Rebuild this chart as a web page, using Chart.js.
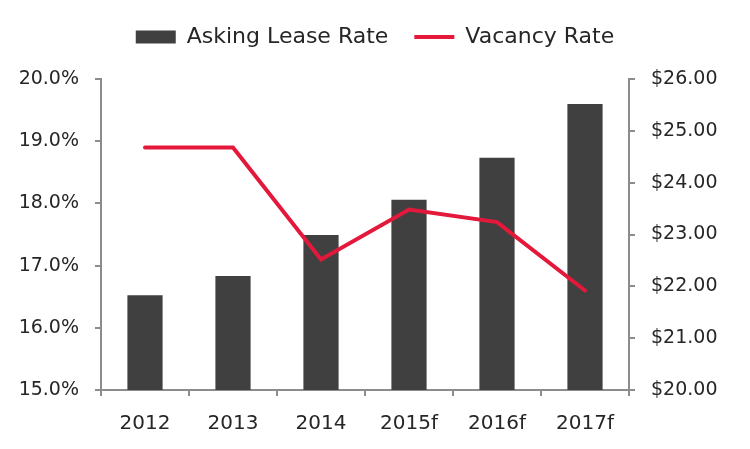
<!DOCTYPE html>
<html>
<head>
<meta charset="utf-8">
<script src="https://cdn.jsdelivr.net/npm/chart.js@4/dist/chart.umd.min.js"></script>
<style>
  html, body { margin: 0; padding: 0; background: #fff; }
  #wrap { width: 750px; height: 449px; }
</style>
</head>
<body>
<div id="wrap"><canvas id="LeaseChart"></canvas></div>
<script>
// Chart data
const years = ["2012", "2013", "2014", "2015f", "2016f", "2017f"];
const askingLeaseRate = [21.83, 22.2, 22.99, 23.67, 24.48, 25.52];
const vacancyRate = [18.9, 18.9, 17.1, 17.9, 17.7, 16.6];

const axisColor = "#8c8c8c";
const textColor = "#262626";
const fontFamily = "'DejaVu Sans', 'Open Sans', sans-serif";

// make the legend take up a fixed band at the top
const legendHeightPlugin = {
  id: "legendHeight",
  beforeLayout(chart) {
    const legend = chart.legend;
    if (legend && !legend._patched) {
      const origFit = legend.fit;
      legend.fit = function () {
        origFit.call(this);
        this.height = 79;
      };
      legend._patched = true;
    }
  },
};

var ctx = document.getElementById("LeaseChart").getContext("2d");
var leaseChart = new Chart(ctx, {
  type: "bar",
  data: {
    labels: years,
    datasets: [
      {
        label: "Asking Lease Rate",
        data: askingLeaseRate,
        backgroundColor: "#404040",
        yAxisID: "y1",
        categoryPercentage: 1.0,
        barPercentage: 0.4,
        order: 1,
      },
      {
        type: "line",
        label: "Vacancy Rate",
        data: vacancyRate,
        borderColor: "#e3183b",
        backgroundColor: "#e3183b",
        borderWidth: 4,
        borderCapStyle: "round",
        pointRadius: 0,
        tension: 0,
        yAxisID: "y",
        order: 0,
      },
    ],
  },
  options: {
    responsive: true,
    maintainAspectRatio: false,
    animation: false,
    layout: { padding: 0 },
    plugins: {
      tooltip: { enabled: false },
      legend: {
        position: "top",
        labels: {
          usePointStyle: true,
          pointStyleWidth: 40,
          boxHeight: 13,
          padding: 26,
          color: textColor,
          font: { family: fontFamily, size: 22 },
          sort: (a, b) => a.datasetIndex - b.datasetIndex,
          generateLabels(chart) {
            const items = Chart.defaults.plugins.legend.labels.generateLabels(chart);
            items.forEach((item) => {
              if (item.datasetIndex === 0) {
                item.pointStyle = "rect";
                item.fillStyle = "#404040";
                item.strokeStyle = "#404040";
                item.lineWidth = 0;
              } else {
                item.pointStyle = "line";
                item.strokeStyle = "#e3183b";
                item.lineWidth = 4;
              }
            });
            return items;
          },
        },
      },
    },
    scales: {
      x: {
        offset: true,
        grid: {
          offset: true,
          drawOnChartArea: false,
          drawTicks: true,
          tickLength: 6,
          color: axisColor,
          lineWidth: 2,
        },
        border: { display: true, color: axisColor, width: 2 },
        ticks: {
          color: textColor,
          padding: 16,
          font: { family: fontFamily, size: 20 },
          maxRotation: 0,
        },
        afterFit(scale) {
          scale.height = 59;
        },
      },
      y: {
        position: "left",
        min: 15,
        max: 20,
        grid: {
          drawOnChartArea: false,
          drawTicks: true,
          tickLength: 6,
          color: axisColor,
          lineWidth: 2,
        },
        border: { display: true, color: axisColor, width: 2 },
        ticks: {
          stepSize: 1,
          color: textColor,
          padding: 16,
          font: { family: fontFamily, size: 19 },
          callback: (v) => v.toFixed(1) + "%",
        },
        afterFit(scale) {
          scale.width = 101;
        },
      },
      y1: {
        position: "right",
        min: 20,
        max: 26,
        grid: {
          drawOnChartArea: false,
          drawTicks: true,
          tickLength: 6,
          color: axisColor,
          lineWidth: 2,
        },
        border: { display: true, color: axisColor, width: 2 },
        ticks: {
          stepSize: 1,
          color: textColor,
          padding: 16,
          font: { family: fontFamily, size: 19 },
          callback: (v) => "$" + v.toFixed(2),
        },
        afterFit(scale) {
          scale.width = 121;
        },
      },
    },
  },
  plugins: [legendHeightPlugin],
});
</script>
</body>
</html>
